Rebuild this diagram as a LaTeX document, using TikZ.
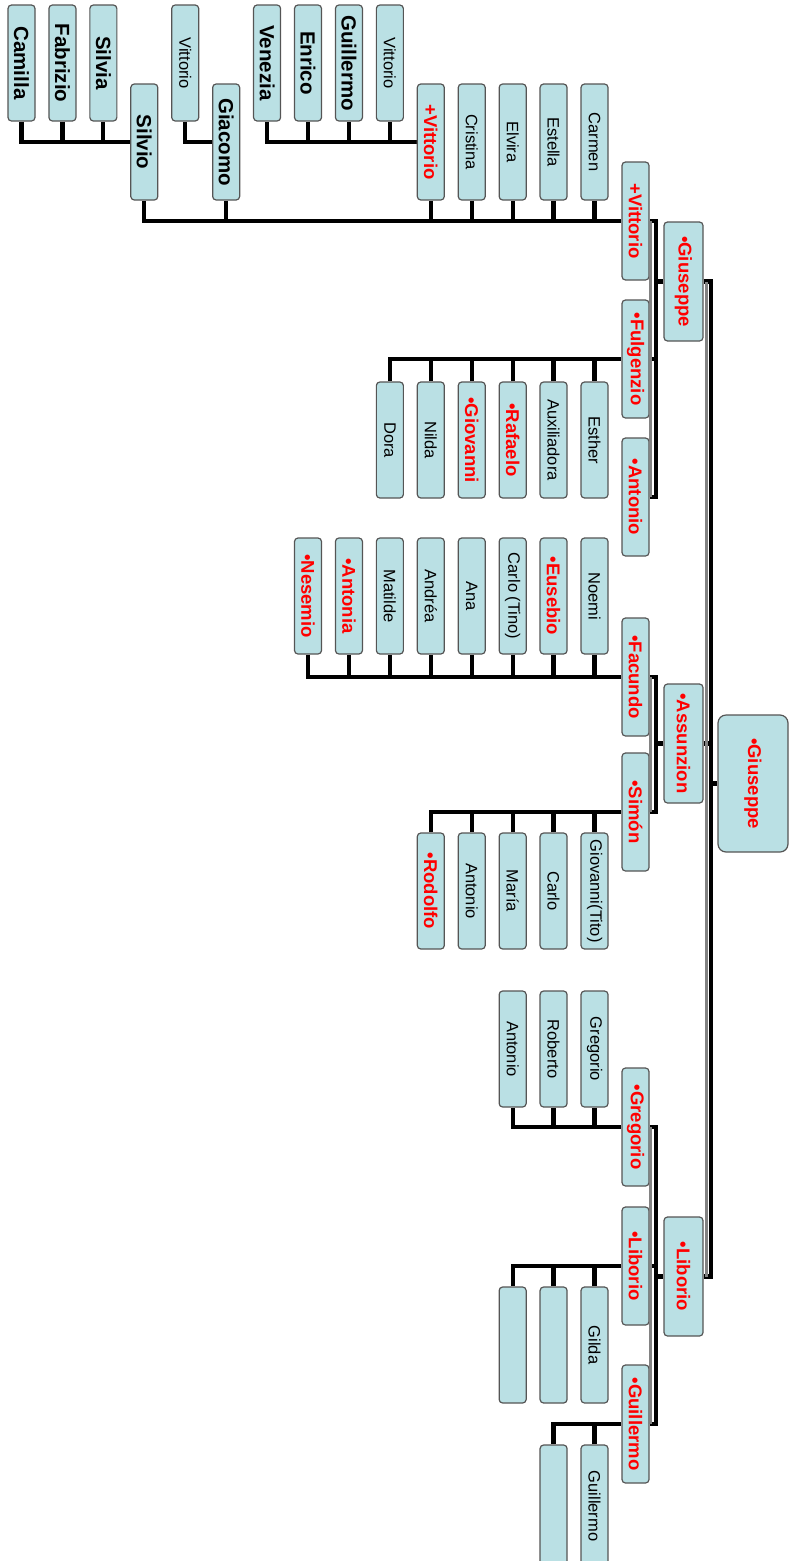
\documentclass[tikz,border=0pt]{standalone}
\usepackage{fontspec}
\setmainfont{Liberation Sans}
\usetikzlibrary{backgrounds,calc}
\definecolor{cellblue}{RGB}{186,224,228}
\definecolor{cellline}{RGB}{85,85,85}
\definecolor{shadecol}{RGB}{130,130,130}
\newcommand{\kid}[5][]{\node[cell,#1] (#2) at ({21.5+40.93*#3},{#4+58}) {#5};}
\newcommand{\up}[2]{\draw[conn] (#1.east) -- (#1.east |- #2.south);}
\newcommand{\dn}[2]{\draw[conn] (#1.west) -- (#1.west |- #2.south);}
\begin{document}
\begin{tikzpicture}[x=1pt,y=-1pt,
  cell/.style={draw=cellline, line width=1.2pt, fill=cellblue, rounded corners=3.5pt,
    rotate=-90, inner sep=0pt, minimum width=116pt, minimum height=27pt,
    font=\fontsize{16.5}{18}\selectfont, text=black},
  rd/.style={font=\bfseries\fontsize{18.5}{20}\selectfont, text=red},
  bk/.style={font=\bfseries\fontsize{20.5}{22}\selectfont},
  conn/.style={line width=4.2pt, black},
  shd/.style={line width=3pt, shadecol}]
\useasboundingbox (0,0) rectangle (789,1561);
\clip (0,0) rectangle (789,1561);
\coordinate (v1) at (656,0);
\coordinate (v0) at (711,0);
\coordinate (s1) at (650.5,0);
\coordinate (s0) at (706,0);

% ---------- nodes ----------
% root and generation 2
\node[cell,rd,minimum width=137pt,minimum height=70pt,rounded corners=8pt] (root) at (753,783.5) {•Giuseppe};
\node[cell,rd,minimum width=119pt,minimum height=39pt] (g2a) at (683.5,281.5) {•Giuseppe};
\node[cell,rd,minimum width=119pt,minimum height=39pt] (g2b) at (683.5,743.5) {•Assunzion};
\node[cell,rd,minimum width=119pt,minimum height=39pt] (g2c) at (683.5,1276.5) {•Liborio};
% generation 3
\node[cell,rd,minimum width=118pt] (g3a) at (635.5,221) {+Vittorio};
\node[cell,rd,minimum width=118pt] (g3b) at (635.5,359) {•Fulgenzio};
\node[cell,rd,minimum width=118pt] (g3c) at (635.5,497) {•Antonio};
\node[cell,rd,minimum width=118pt] (g3d) at (635.5,677) {•Facundo};
\node[cell,rd,minimum width=118pt] (g3e) at (635.5,812) {•Simón};
\node[cell,rd,minimum width=118pt] (g3f) at (635.5,1127) {•Gregorio};
\node[cell,rd,minimum width=118pt] (g3g) at (635.5,1266) {•Liborio};
\node[cell,rd,minimum width=118pt] (g3h) at (635.5,1424) {•Guillermo};
% top rows
\kid[bk]{a0}{0}{5}{Camilla}
\kid[bk]{a1}{1}{5}{Fabrizio}
\kid[bk]{a2}{2}{5}{Silvia}
\kid{a4}{4}{5}{Vittorio}
\kid[bk]{a6}{6}{5}{Venezia}
\kid[bk]{a7}{7}{5}{Enrico}
\kid[bk]{a8}{8}{5}{Guillermo}
\kid{a9}{9}{5}{Vittorio}
\kid[bk]{b3}{3}{84}{Silvio}
\kid[bk]{b5}{5}{84}{Giacomo}
\kid[rd]{b10}{10}{84}{+Vittorio}
\kid{b11}{11}{84}{Cristina}
\kid{b12}{12}{84}{Elvira}
\kid{b13}{13}{84}{Estella}
\kid{b14}{14}{84}{Carmen}
% Fulgenzio's children
\kid{c9}{9}{382}{Dora}
\kid{c10}{10}{382}{Nilda}
\kid[rd]{c11}{11}{382}{•Giovanni}
\kid[rd]{c12}{12}{382}{•Rafaelo}
\kid{c13}{13}{382}{Auxiliadora}
\kid{c14}{14}{382}{Esther}
% Facundo's children
\kid[rd]{d7}{7}{538}{•Nesemio}
\kid[rd]{d8}{8}{538}{•Antonia}
\kid{d9}{9}{538}{Matilde}
\kid{d10}{10}{538}{Andréa}
\kid{d11}{11}{538}{Ana}
\kid{d12}{12}{538}{Carlo (Tino)}
\kid[rd]{d13}{13}{538}{•Eusebio}
\kid{d14}{14}{538}{Noemi}
% Simon's children
\kid[rd]{e10}{10}{833}{•Rodolfo}
\kid{e11}{11}{833}{Antonio}
\kid{e12}{12}{833}{María}
\kid{e13}{13}{833}{Carlo}
\kid{e14}{14}{833}{Giovanni(Tito)}
% Gregorio's children
\kid{f12}{12}{991}{Antonio}
\kid{f13}{13}{991}{Roberto}
\kid{f14}{14}{991}{Gregorio}
% Liborio's children
\kid{h12}{12}{1287}{}
\kid{h13}{13}{1287}{}
\kid{h14}{14}{1287}{Gilda}
% Guillermo's children
\node[cell,minimum width=122pt] (i13) at ({21.5+40.93*13},1506) {};
\node[cell,minimum width=122pt] (i14) at ({21.5+40.93*14},1506) {Guillermo};

% ---------- connectors (behind boxes) ----------
\begin{scope}[on background layer]
  % root bar
  \draw[conn] (g2a.north) -- (g2a -| v0) -- (g2c -| v0) -- (g2c.north);
  \draw[conn] (g2b.north) -- (g2b -| v0);
  \draw[conn] (root.south) -- (root -| v0);
  % Giuseppe (gen 2)
  \draw[conn] (g3a.north) -- (g3a -| v1) -- (g3c -| v1) -- (g3c.north);
  \draw[conn] (g3b.north) -- (g3b -| v1);
  \draw[conn] (g2a.south) -- (g2a -| v1);
  % Assunzion
  \draw[conn] (g3d.north) -- (g3d -| v1) -- (g3e -| v1) -- (g3e.north);
  \draw[conn] (g2b.south) -- (g2b -| v1);
  % Liborio (gen 2)
  \draw[conn] (g3f.north) -- (g3f -| v1) -- (g3h -| v1) -- (g3h.north);
  \draw[conn] (g3g.north) -- (g3g -| v1);
  \draw[conn] (g2c.south) -- (g2c -| v1);
  % +Vittorio (gen 3)
  \draw[conn] (b3.east) |- (g3a.south);
  \up{b5}{g3a} \up{b10}{g3a} \up{b11}{g3a} \up{b12}{g3a} \up{b13}{g3a} \up{b14}{g3a}
  % Silvio, Giacomo, +Vittorio (gen 4)
  \draw[conn] (a0.east) |- (b3.south);
  \up{a1}{b3} \up{a2}{b3}
  \draw[conn] (a4.east) |- (b5.south);
  \draw[conn] (a6.east) |- (b10.south);
  \up{a7}{b10} \up{a8}{b10} \up{a9}{b10}
  % Fulgenzio
  \draw[conn] (c9.west) |- (g3b.south);
  \dn{c10}{g3b} \dn{c11}{g3b} \dn{c12}{g3b} \dn{c13}{g3b} \dn{c14}{g3b}
  % Facundo
  \draw[conn] (d7.east) |- (g3d.south);
  \up{d8}{g3d} \up{d9}{g3d} \up{d10}{g3d} \up{d11}{g3d} \up{d12}{g3d} \up{d13}{g3d} \up{d14}{g3d}
  % Simon
  \draw[conn] (e10.west) |- (g3e.south);
  \dn{e11}{g3e} \dn{e12}{g3e} \dn{e13}{g3e} \dn{e14}{g3e}
  % Gregorio
  \draw[conn] (f12.east) |- (g3f.south);
  \up{f13}{g3f} \up{f14}{g3f}
  % Liborio (gen 3)
  \draw[conn] (h12.west) |- (g3g.south);
  \dn{h13}{g3g} \dn{h14}{g3g}
  % Guillermo
  \draw[conn] (i13.west) |- (g3h.south);
  \dn{i14}{g3h}
\end{scope}
% ---------- grey shadows beside the vertical bars ----------
\draw[shd] (g2a -| s0) -- (g2c -| s0);
\draw[shd] (g3a -| s1) -- (g3c -| s1);
\draw[shd] (g3d -| s1) -- (g3e -| s1);
\draw[shd] (g3f -| s1) -- (g3h -| s1);
\end{tikzpicture}
\end{document}
